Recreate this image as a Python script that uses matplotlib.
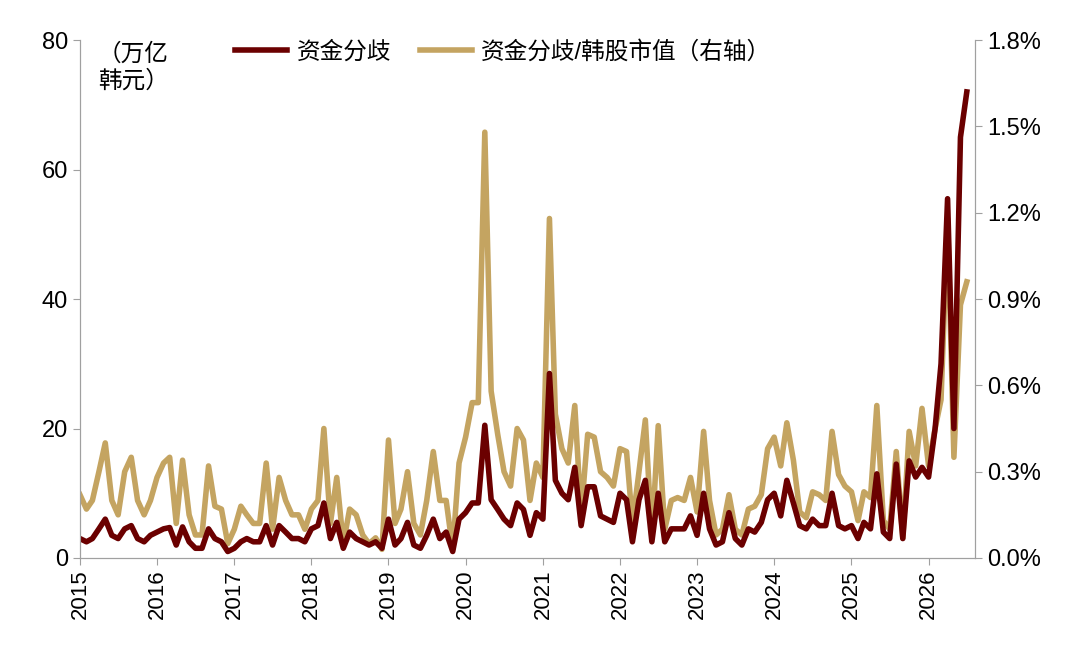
import numpy as np
import pandas as pd
import matplotlib
matplotlib.use("Agg")
import matplotlib.pyplot as plt
from matplotlib.ticker import FuncFormatter

plt.rcParams['font.family'] = ['Liberation Sans', 'Noto Sans CJK SC']

dates = pd.date_range("2015-01-01", "2026-07-01", freq="MS")
# 资金分歧 (万亿韩元), monthly
divergence = [
    3, 2.5, 3, 4.5, 6, 3.5, 3, 4.5, 5, 3, 2.5, 3.5,
    4, 4.5, 4.7, 2, 4.8, 2.5, 1.5, 1.5, 4.5, 3, 2.5, 1,
    1.5, 2.5, 3, 2.5, 2.5, 5, 2, 5, 4, 3, 3, 2.5,
    4.5, 5, 8.5, 3, 5.5, 1.5, 4, 3, 2.5, 2, 2.5, 1.5,
    6, 2, 3, 5.5, 2, 1.5, 3.5, 6, 3, 4, 1, 6,
    7, 8.5, 8.5, 20.5, 9, 7.5, 6, 5, 8.5, 7.5, 3.5, 7,
    6, 28.5, 12, 10, 9, 14, 5, 11, 11, 6.5, 6, 5.5,
    10, 9, 2.5, 9, 12, 2.5, 10, 2.5, 4.5, 4.5, 4.5, 6.5,
    3.5, 10, 4.5, 2, 2.5, 7, 3, 2, 4.5, 4, 5.5, 9,
    10, 6.5, 12, 8.5, 5, 4.5, 6, 5, 5, 10, 5, 4.5,
    5, 3, 5.5, 4.5, 13, 4, 3, 14.5, 3, 15, 12.5, 14,
    12.5, 20, 30, 55.5, 20, 65, 72,
]
# 资金分歧/韩股市值 (%), monthly
ratio = [
    0.22, 0.17, 0.2, 0.3, 0.4, 0.2, 0.15, 0.3, 0.35, 0.2, 0.15, 0.2,
    0.28, 0.33, 0.35, 0.12, 0.34, 0.15, 0.08, 0.08, 0.32, 0.18, 0.17, 0.05,
    0.1, 0.18, 0.15, 0.12, 0.12, 0.33, 0.1, 0.28, 0.2, 0.15, 0.15, 0.1,
    0.17, 0.2, 0.45, 0.12, 0.28, 0.05, 0.17, 0.15, 0.08, 0.05, 0.07, 0.03,
    0.41, 0.12, 0.17, 0.3, 0.12, 0.08, 0.2, 0.37, 0.2, 0.2, 0.03, 0.33,
    0.42, 0.54, 0.54, 1.48, 0.58, 0.43, 0.3, 0.25, 0.45, 0.41, 0.2, 0.33,
    0.28, 1.18, 0.5, 0.38, 0.33, 0.53, 0.15, 0.43, 0.42, 0.3, 0.28, 0.25,
    0.38, 0.37, 0.12, 0.3, 0.48, 0.07, 0.46, 0.1, 0.2, 0.21, 0.2, 0.28,
    0.16, 0.44, 0.2, 0.08, 0.1, 0.22, 0.1, 0.08, 0.17, 0.18, 0.22, 0.38,
    0.42, 0.32, 0.47, 0.34, 0.16, 0.14, 0.23, 0.22, 0.2, 0.44, 0.29, 0.25,
    0.23, 0.13, 0.23, 0.21, 0.53, 0.13, 0.1, 0.37, 0.07, 0.44, 0.32, 0.52,
    0.32, 0.45, 0.55, 1.18, 0.35, 0.88, 0.96,
]
year_labels = [str(y) for y in range(2015, 2027)]

dark_red = "#6B0000"
gold = "#C4A461"
grey = "#A0A0A0"

fig = plt.figure(figsize=(10.8, 6.58), dpi=100)
ax = fig.add_axes([0.074, 0.152, 0.829, 0.787])
ax2 = ax.twinx()

ax2.plot(dates, ratio, color=gold, lw=4, label="资金分歧/韩股市值（右轴）")
ax.plot(dates, divergence, color=dark_red, lw=4, label="资金分歧")
ax.set_zorder(ax2.get_zorder() + 1)
ax.patch.set_visible(False)

ax.set_ylim(0, 80)
ax.set_yticks([0, 20, 40, 60, 80])
ax2.set_ylim(0, 1.8)
ax2.set_yticks(np.arange(0, 1.81, 0.3))
ax2.yaxis.set_major_formatter(FuncFormatter(lambda v, p: f"{v:.1f}%"))

ticks = pd.to_datetime([f"{y}-01-01" for y in year_labels])
ax.set_xticks(ticks)
ax.set_xticklabels(year_labels, rotation=90)
ax.set_xlim(pd.Timestamp("2015-01-01"), pd.Timestamp("2026-08-10"))

for a in (ax, ax2):
    a.spines["top"].set_visible(False)
    for s in ("left", "right", "bottom"):
        a.spines[s].set_color(grey)
    a.tick_params(labelsize=17, color=grey, length=5)
ax.tick_params(axis="x", labelsize=16)

ax.text(0.02, 0.995, "（万亿\n韩元）", transform=ax.transAxes, fontsize=17,
        va="top", ha="left", linespacing=1.3)
h1, l1 = ax.get_legend_handles_labels()
h2, l2 = ax2.get_legend_handles_labels()
ax.legend(h1 + h2, l1 + l2, loc="upper left", bbox_to_anchor=(0.15, 1.04),
          ncol=2, frameon=False, fontsize=17, handlelength=2.2,
          columnspacing=1.2, handletextpad=0.4)

fig.savefig("out.png")
